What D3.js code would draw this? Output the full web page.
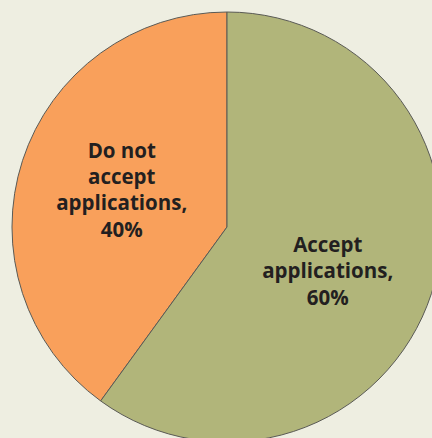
<!DOCTYPE html>
<html>
<head>
<meta charset="utf-8">
<script src="https://cdn.jsdelivr.net/npm/d3@7"></script>
<style>
  html, body { margin: 0; padding: 0; background: #eeeee1; }
  svg { display: block; }
</style>
</head>
<body>
<svg id="chart" width="432" height="438"></svg>
<script>
// データ
const categories = ["Do not accept applications", "Accept applications"];
const values = [40, 60];
const labelLines = [
  ["Do not", "accept", "applications,", "40%"],
  ["Accept", "applications,", "60%"]
];
const colors = ["#f9a05b", "#b1b57a"];

const width = 432, height = 438;
const cx = 227, cy = 227, radius = 215;
const lineHeight = 26.4;

const svg = d3.select("#chart");

svg.append("rect")
  .attr("width", width)
  .attr("height", height)
  .attr("fill", "#eeeee1");

const g = svg.append("g").attr("transform", `translate(${cx},${cy})`);

// 40% を左側に置くため反時計回り
const pie = d3.pie().sort(null).startAngle(0).endAngle(-2 * Math.PI);
const arcs = pie(values);
const arc = d3.arc().innerRadius(0).outerRadius(radius);

g.selectAll("path")
  .data(arcs)
  .enter()
  .append("path")
  .attr("d", arc)
  .attr("fill", (d, i) => colors[i])
  .attr("stroke", "#5a5a55")
  .attr("stroke-width", 1);

// ラベル位置 (中心からの位置) + 微調整
const labelArc = d3.arc().innerRadius(radius * 0.5).outerRadius(radius * 0.5);
const labelOffsets = [{ x: -3, y: -3.5 }, { x: -1.5, y: 11 }];

arcs.forEach((d, i) => {
  const [lx, ly] = labelArc.centroid(d);
  const lines = labelLines[i];
  const off = labelOffsets[i];
  const text = g.append("text")
    .attr("text-anchor", "middle")
    .attr("font-family", "'Open Sans', 'Noto Sans', sans-serif")
    .attr("font-weight", "bold")
    .attr("font-size", 20.5)
    .attr("fill", "#231f20");
  lines.forEach((t, j) => {
    text.append("tspan")
      .attr("x", lx + off.x)
      .attr("y", ly + off.y + (j - (lines.length - 1) / 2) * lineHeight + 7)
      .text(t);
  });
});
</script>
</body>
</html>
